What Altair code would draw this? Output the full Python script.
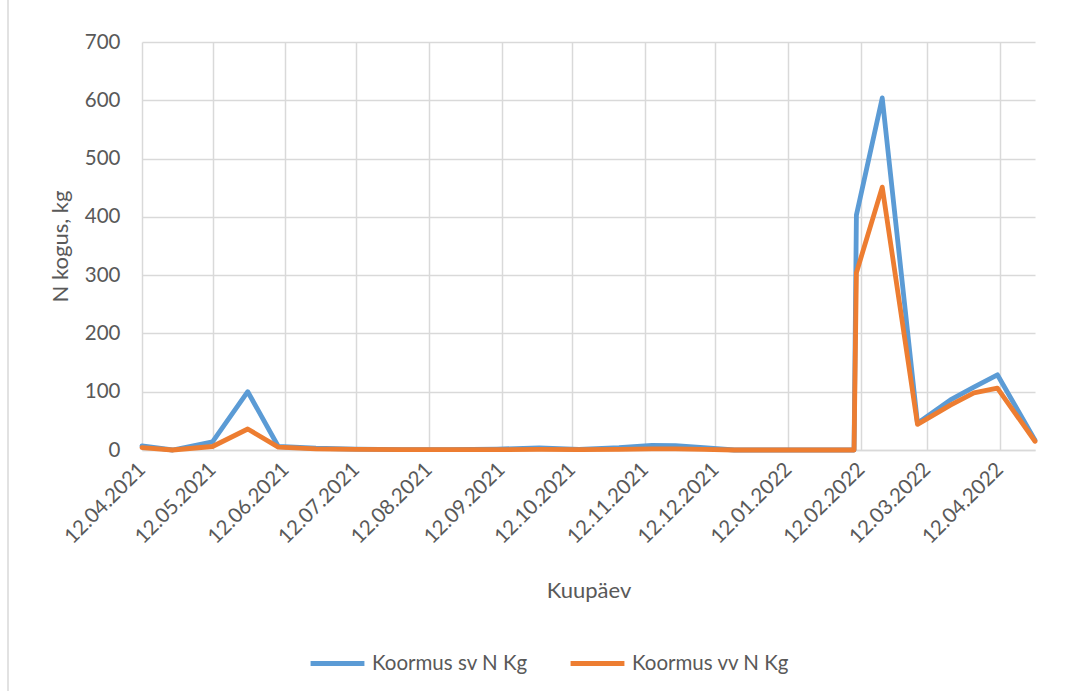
import altair as alt
import pandas as pd
from datetime import datetime, timezone

# ---- data ----
dates = [
    "2021-04-12", "2021-04-25", "2021-05-12", "2021-05-27", "2021-06-09",
    "2021-06-25", "2021-07-12", "2021-08-01", "2021-08-20", "2021-09-10",
    "2021-09-28", "2021-10-15", "2021-11-01", "2021-11-15", "2021-11-25",
    "2021-12-07", "2021-12-20", "2022-01-10", "2022-02-09", "2022-02-10",
    "2022-02-21", "2022-03-08", "2022-03-22", "2022-04-01", "2022-04-11",
    "2022-04-27",
]
sv = [7, 0, 14, 100, 6,
      3, 1.5, 0.5, 0.5, 1.5,
      3.5, 1, 4, 8, 7.5,
      4, 0, 0, 0, 403,
      604, 46, 86, 108, 129,
      17]
vv = [4, 0, 6, 36, 5,
      2, 1, 0.5, 0.5, 0.5,
      1, 0.5, 1, 2, 2,
      1, 0, 0, 0, 304,
      451, 44, 77, 98, 106,
      15]
series_names = ["Koormus sv N Kg", "Koormus vv N Kg"]
series_colors = ["#5B9BD5", "#ED7D31"]
tick_dates = [
    "2021-04-12", "2021-05-12", "2021-06-12", "2021-07-12", "2021-08-12",
    "2021-09-12", "2021-10-12", "2021-11-12", "2021-12-12", "2022-01-12",
    "2022-02-12", "2022-03-12", "2022-04-12",
]
y_ticks = [0, 100, 200, 300, 400, 500, 600, 700]


def ms(s):
    return int(datetime.strptime(s, "%Y-%m-%d").replace(tzinfo=timezone.utc).timestamp() * 1000)


rows = []
for name, vals in zip(series_names, [sv, vv]):
    for d, v in zip(dates, vals):
        rows.append({"date": d, "value": v, "series": name})
df = pd.DataFrame(rows)

FONT = "Lato"
TXT = "#595959"
GRID = "#D9D9D9"

lines = alt.Chart(df).mark_line(strokeWidth=4.8, strokeJoin="round", strokeCap="round").encode(
    x=alt.X(
        "date:T",
        scale=alt.Scale(type="utc", domain=[ms(dates[0]), ms(dates[-1])]),
        axis=alt.Axis(
            values=[ms(t) for t in tick_dates],
            format="%d.%m.%Y",
            labelAngle=-45,
            labelAlign="right",
            labelBaseline="middle",
            labelPadding=16,
            labelFontSize=20.5,
            labelColor=TXT,
            labelFont=FONT,
            ticks=False,
            domain=True,
            domainColor=GRID,
            domainWidth=1.5,
            grid=True,
            gridColor=GRID,
            gridWidth=1.5,
            title="Kuupäev",
            titleFont=FONT,
            titleFontSize=22,
            titleFontWeight="normal",
            titleColor=TXT,
            titleY=147,
            titleBaseline="alphabetic",
            labelOverlap=False,
        ),
    ),
    y=alt.Y(
        "value:Q",
        scale=alt.Scale(domain=[0, 700], nice=False),
        axis=alt.Axis(
            values=y_ticks,
            labelFontSize=20.5,
            labelColor=TXT,
            labelFont=FONT,
            labelPadding=22,
            ticks=False,
            domain=False,
            grid=True,
            gridColor=GRID,
            gridWidth=1.5,
            title="N kogus, kg",
            titleFont=FONT,
            titleFontSize=22,
            titleFontWeight="normal",
            titleColor=TXT,
            titleX=-70,
            titleBaseline="bottom",
        ),
    ),
    color=alt.Color(
        "series:N",
        scale=alt.Scale(domain=series_names, range=series_colors),
        legend=alt.Legend(
            title=None,
            orient="none",
            legendX=166,
            legendY=592,
            direction="horizontal",
            symbolType="stroke",
            symbolSize=2900,
            symbolStrokeWidth=5,
            labelFontSize=20.5,
            labelFont=FONT,
            labelColor=TXT,
            labelOffset=5,
            columnPadding=32,
            padding=0,
        ),
    ),
    order=alt.Order("date:T"),
)

# light-grey chart-area frame on the left side, as in the reference
frame = alt.Chart(pd.DataFrame({"k": [0]})).mark_rule(color=GRID, strokeWidth=1.5).encode(
    x=alt.value(-134), y=alt.value(-42), y2=alt.value(691 - 42)
)

chart = alt.layer(frame, lines).properties(
    width=893,
    height=408,
    autosize=alt.AutoSizeParams(type="none"),
    padding={"left": 142, "top": 42, "right": 38, "bottom": 241},
    background="white",
).configure_view(strokeWidth=0, stroke="transparent", strokeOpacity=0)

chart.save("out.html", embed_options={"renderer": "svg", "actions": False})
